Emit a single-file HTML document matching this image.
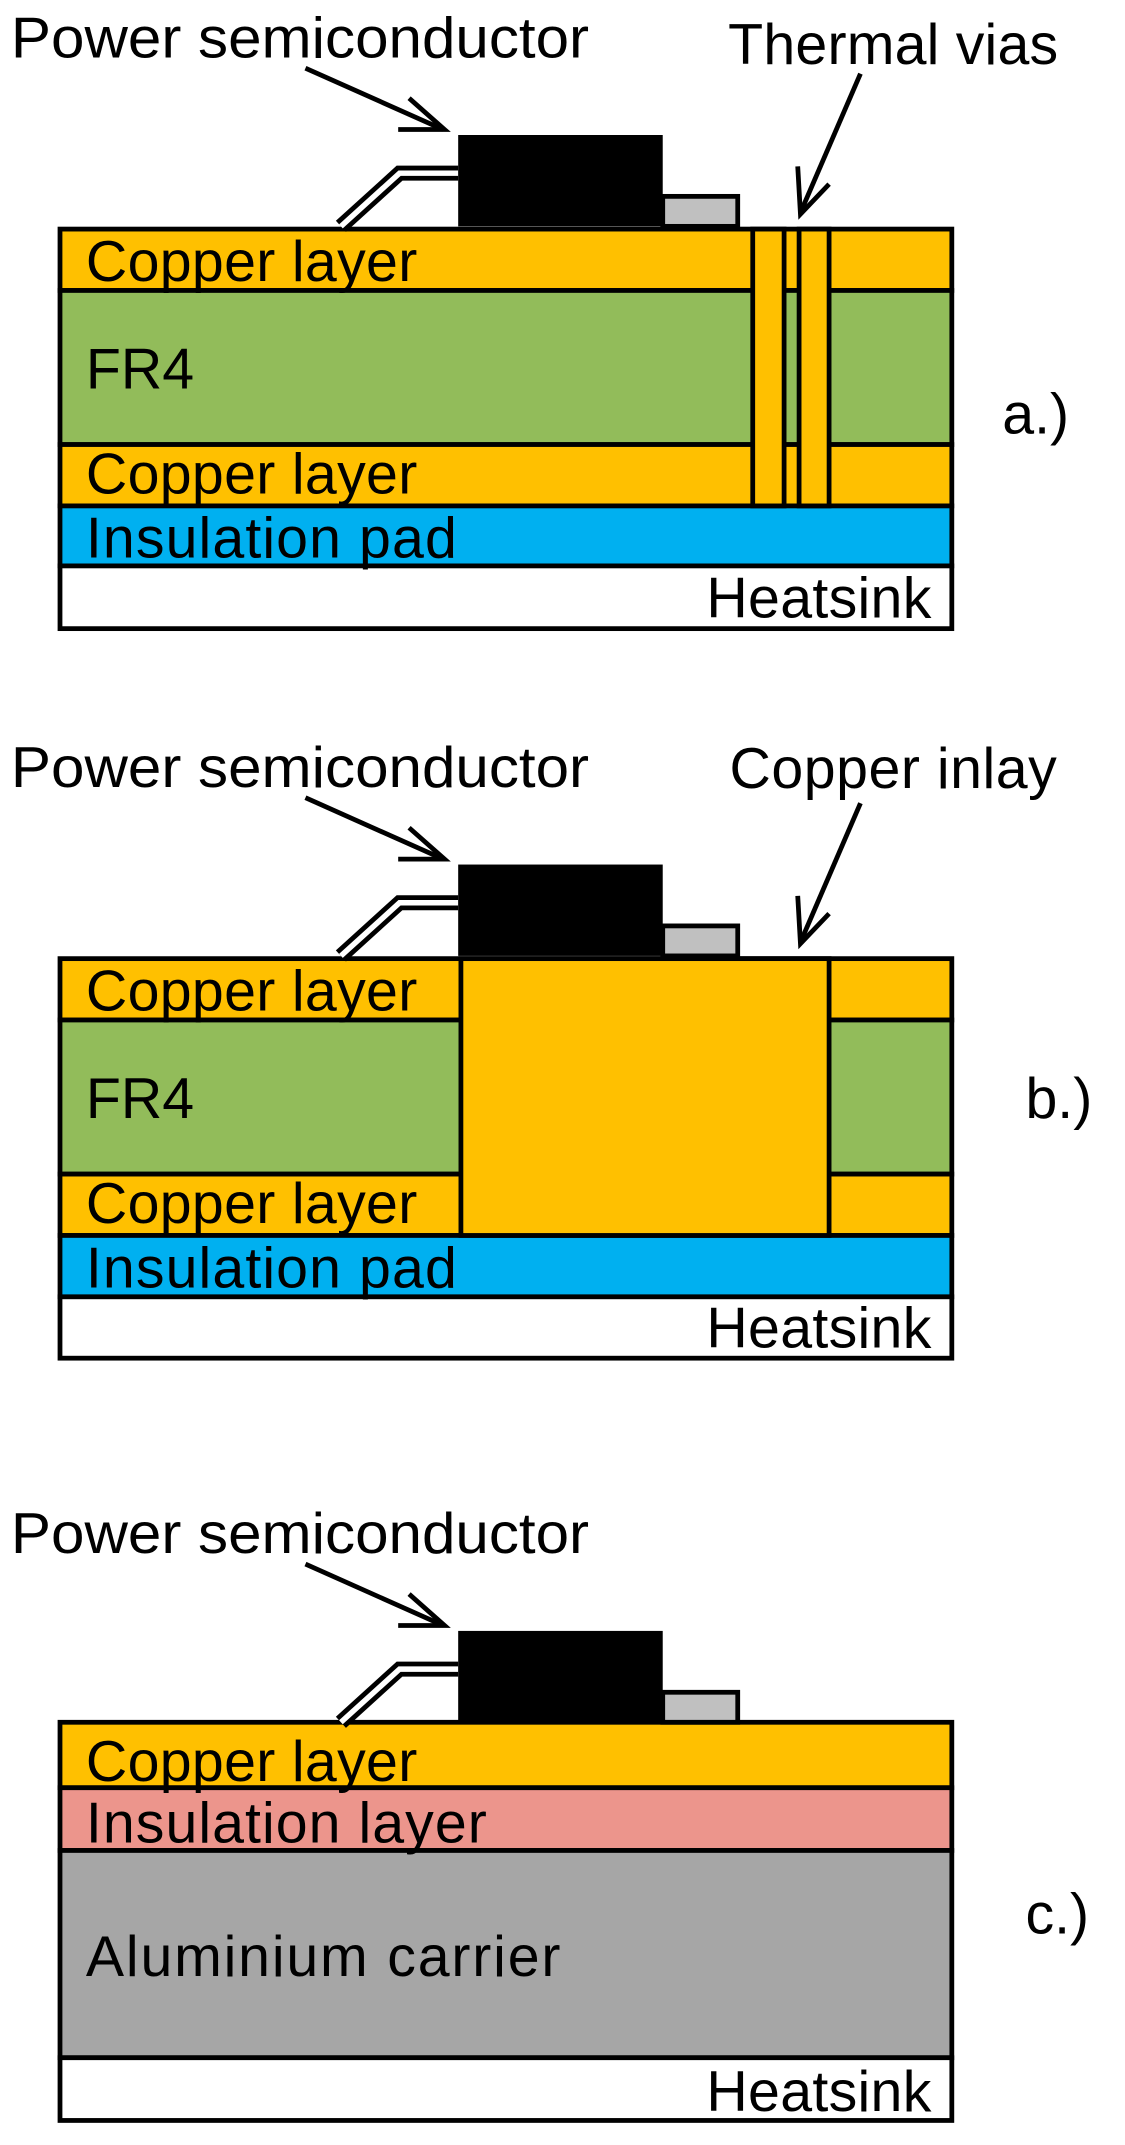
<!DOCTYPE html>
<html><head><meta charset="utf-8"><style>html,body{margin:0;padding:0;background:#fff}svg{display:block}</style></head>
<body>
<svg width="1125" height="2145" viewBox="0 0 825 1573" xmlns="http://www.w3.org/2000/svg" font-family="Liberation Sans, sans-serif" font-size="42" lengthAdjust="spacingAndGlyphs">
<defs>
<g id="chip">
  <polyline points="336,127 293,127 250,166" fill="none" stroke="#000" stroke-width="11"/>
  <polyline points="336,127 293,127 250,166" fill="none" stroke="#fff" stroke-width="4"/>
  <rect x="486" y="144" width="55" height="22" fill="#c0c0c0" stroke="#000" stroke-width="3.5"/>
  <rect x="336" y="99" width="150" height="67" fill="#000"/>
  <text x="8" y="42" textLength="424" lengthAdjust="spacingAndGlyphs">Power semiconductor</text>
  <line x1="224" y1="50" x2="325" y2="95" stroke="#000" stroke-width="3.5"/>
  <polyline points="300,72 326,95 292,95" fill="none" stroke="#000" stroke-width="3.5"/>
</g>
</defs>
<g stroke="#000" stroke-width="3.5">
<rect x="44" y="168" width="654" height="45" fill="#ffc000"/>
<rect x="44" y="213" width="654" height="113" fill="#92bc5a"/>
<rect x="44" y="326" width="654" height="45" fill="#ffc000"/>
<rect x="44" y="371" width="654" height="44" fill="#00b0f0"/>
<rect x="44" y="415" width="654" height="46" fill="#fff"/>
<rect x="552" y="168" width="23" height="203" fill="#ffc000"/>
<rect x="586" y="168" width="22" height="203" fill="#ffc000"/>
<rect x="44" y="703" width="654" height="45" fill="#ffc000"/>
<rect x="44" y="748" width="654" height="113" fill="#92bc5a"/>
<rect x="44" y="861" width="654" height="45" fill="#ffc000"/>
<rect x="44" y="906" width="654" height="45" fill="#00b0f0"/>
<rect x="44" y="951" width="654" height="45" fill="#fff"/>
<rect x="338" y="703" width="270" height="203" fill="#ffc000"/>
<rect x="44" y="1263" width="654" height="48" fill="#ffc000"/>
<rect x="44" y="1311" width="654" height="46" fill="#ec958c"/>
<rect x="44" y="1357" width="654" height="152" fill="#a6a6a6"/>
<rect x="44" y="1509" width="654" height="46" fill="#fff"/>
</g>
<use href="#chip"/>
<use href="#chip" y="535"/>
<use href="#chip" y="1097"/>
<g fill="#000">
<text x="63" y="206" textLength="243">Copper layer</text>
<text x="63" y="285">FR4</text>
<text x="63" y="362" textLength="243">Copper layer</text>
<text x="63" y="409" textLength="272">Insulation pad</text>
<text x="518" y="453" textLength="165">Heatsink</text>
<text x="534" y="47" textLength="242">Thermal vias</text>
<text x="735" y="318">a.)</text>
<text x="63" y="741" textLength="243">Copper layer</text>
<text x="63" y="820">FR4</text>
<text x="63" y="897" textLength="243">Copper layer</text>
<text x="63" y="944" textLength="272">Insulation pad</text>
<text x="518" y="988" textLength="165">Heatsink</text>
<text x="535" y="578" textLength="240">Copper inlay</text>
<text x="752" y="820">b.)</text>
<text x="63" y="1306" textLength="243">Copper layer</text>
<text x="63" y="1351" textLength="294">Insulation layer</text>
<text x="63" y="1449" textLength="348">Aluminium carrier</text>
<text x="518" y="1548" textLength="165">Heatsink</text>
<text x="752" y="1418">c.)</text>
</g>
<g stroke="#000" stroke-width="3.5" fill="none">
<line x1="631" y1="54" x2="587" y2="156"/>
<polyline points="585,122 587,157 608,135"/>
<line x1="631" y1="589" x2="587" y2="691"/>
<polyline points="585,657 587,692 608,670"/>
</g>
</svg>
</body></html>
